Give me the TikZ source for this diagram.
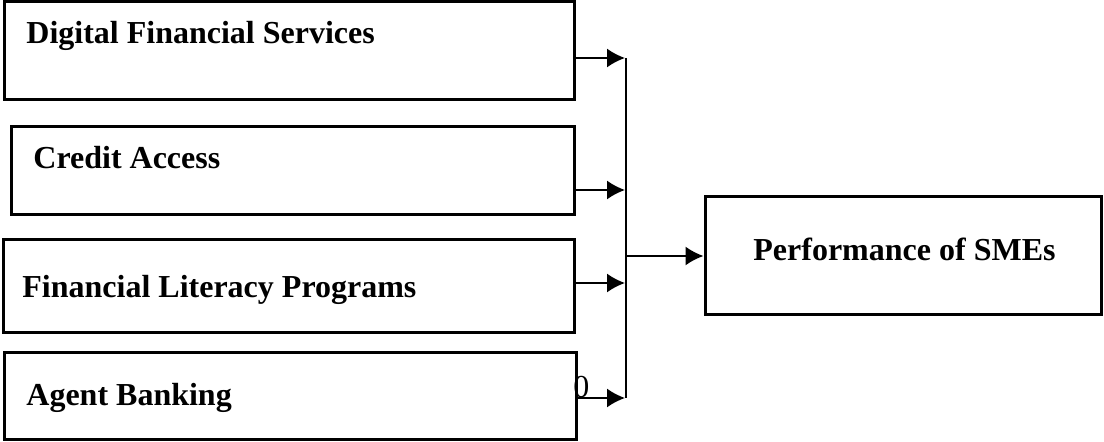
\documentclass[tikz,border=0pt]{standalone}
\usepackage{fontspec}
\setmainfont{Liberation Serif}
\usetikzlibrary{arrows.meta}

\tikzset{
  factor/.style={draw, line width=1.5pt, inner sep=0pt},
  boxtext/.style={anchor=base west, inner sep=0pt, font=\fontsize{16}{19}\selectfont\bfseries},
  link/.style={line width=0.9pt},
}

\begin{document}
\begin{tikzpicture}[>={Latex[length=9pt,width=9.5pt]}, x=0.5pt, y=-0.5pt]
    \useasboundingbox (0,0) rectangle (1104,442);

    % 1. The stray digit behind the last box
    \node[anchor=base west, inner sep=0pt, font=\fontsize{16}{19}\selectfont] (zero) at (573,398) {0};

    % 2. Boxes of the independent variables
    \node[factor, minimum width=285pt, minimum height=49pt] (dfs) at (289,51) {};
    \node[factor, minimum width=281.5pt, minimum height=44pt] (credit) at (292.5,171) {};
    \node[factor, minimum width=285.5pt, minimum height=46.5pt] (literacy) at (288.5,286.5) {};
    \node[factor, minimum width=286pt, minimum height=43.5pt] (agent) at (290,396.5) {};
    \node[boxtext] (dfstext) at (26,44) {Digital Financial Services};
    \node[boxtext] (credittext) at (33,169) {Credit Access};
    \node[boxtext] (literacytext) at (22,298) {Financial Literacy Programs};
    \node[boxtext] (agenttext) at (26,406) {Agent Banking};

    % 3. Box of the dependent variable
    \node[factor, minimum width=198pt, minimum height=59pt] (perf) at (903,256) {};
    \node[boxtext] (perftext) at (753,261) {Performance of SMEs};

    % 4. Arrows into the collecting line
    \coordinate (in1) at (625,58);
    \coordinate (in2) at (625,190);
    \coordinate (in3) at (625,283);
    \coordinate (in4) at (625,398);
    \coordinate (bustop) at (626,58);
    \coordinate (busbot) at (626,398);
    \draw[->, link] (dfs.east |- in1) -- (in1);
    \draw[->, link] (credit.east |- in2) -- (in2);
    \draw[->, link] (literacy.east |- in3) -- (in3);
    \draw[->, link] (agent.east |- in4) -- (in4);
    \draw[link] (bustop) -- (busbot);

    % 5. Arrow to the outcome
    \draw[->, link] (bustop |- perf.west) -- (perf.west);
\end{tikzpicture}
\end{document}
